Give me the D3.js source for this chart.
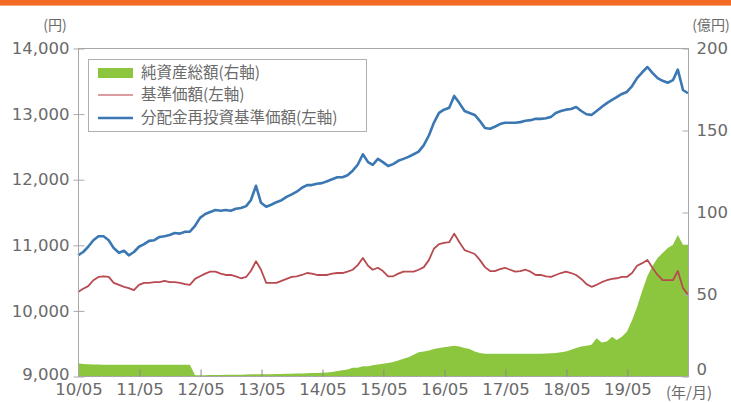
<!DOCTYPE html>
<html>
<head>
<meta charset="utf-8">
<script src="https://cdn.jsdelivr.net/npm/d3@7"></script>
<style>
  html, body { margin: 0; padding: 0; background: #fff; }
  svg { display: block; }
</style>
</head>
<body>
<div id="chart"></div>
<script>
// monthly values, 2010/05 .. 2020/05
const reinvestNav = [
  10840, 10890, 10970, 11070, 11130, 11130, 11070, 10950, 10880, 10910, 10840, 10890,
  10970, 11010, 11060, 11070, 11120, 11130, 11150, 11180, 11170, 11200, 11200, 11290,
  11410, 11470, 11500, 11530, 11520, 11530, 11520, 11550, 11560, 11590, 11680, 11900,
  11640, 11580, 11610, 11650, 11680, 11730, 11770, 11810, 11870, 11910, 11910, 11930,
  11940, 11970, 12000, 12030, 12030, 12060, 12130, 12220, 12380, 12260, 12220, 12310,
  12260, 12200, 12230, 12280, 12310, 12340, 12380, 12420, 12520, 12670, 12860, 13010,
  13060, 13090, 13270, 13160, 13040, 13010, 12980, 12890, 12780, 12770, 12800, 12840,
  12860, 12860, 12860, 12870, 12890, 12900, 12920, 12920, 12930, 12950, 13010, 13040,
  13060, 13070, 13100, 13040, 12990, 12980, 13040, 13100, 13160, 13210, 13250, 13300,
  13330, 13420, 13540, 13630, 13710, 13620, 13540, 13500, 13470, 13510, 13670, 13360,
  13310
];
const baseNav = [
  10280, 10330, 10370, 10460, 10510, 10520, 10510, 10420, 10390, 10360, 10340, 10310,
  10390, 10420, 10420, 10430, 10430, 10450, 10430, 10430, 10420, 10400, 10390, 10480,
  10520, 10560, 10590, 10590, 10560, 10540, 10540, 10520, 10490, 10510, 10600, 10750,
  10620, 10420, 10420, 10420, 10450, 10480, 10510, 10520, 10540, 10570, 10560, 10540,
  10540, 10540, 10560, 10570, 10570, 10590, 10620, 10690, 10800, 10680, 10620, 10650,
  10600, 10520, 10520, 10560, 10590, 10590, 10590, 10620, 10660, 10770, 10940, 11010,
  11030, 11040, 11170, 11040, 10920, 10890, 10860, 10770, 10660, 10600, 10600, 10630,
  10650, 10620, 10590, 10600, 10620, 10590, 10540, 10540, 10520, 10510, 10540, 10570,
  10590, 10570, 10540, 10480, 10400, 10360, 10390, 10430, 10460, 10480, 10490, 10510,
  10510, 10570, 10680, 10720, 10770, 10650, 10540, 10460, 10460, 10460, 10600, 10340,
  10240
];
const netAssets = [
  7.8, 7.3, 7.1, 7.0, 7.0, 6.9, 6.9, 6.9, 6.8, 6.8, 6.8, 6.8,
  6.8, 6.8, 6.8, 6.8, 6.8, 6.8, 6.8, 6.8, 6.8, 6.8, 6.8, 0.5,
  0.5, 0.5, 0.6, 0.6, 0.6, 0.7, 0.7, 0.8, 0.8, 0.9, 1.0, 1.0,
  1.0, 1.1, 1.1, 1.2, 1.2, 1.3, 1.4, 1.5, 1.6, 1.7, 1.8, 1.9,
  2.0, 2.2, 2.5, 3.0, 3.5, 4.0, 5.0, 5.0, 6.0, 6.0, 6.5, 7.0,
  7.5, 8.0, 8.5, 9.5, 10.5, 11.5, 13.0, 14.5, 15.0, 15.5, 16.5, 17.0,
  17.5, 18.0, 18.5, 18.0, 17.0, 16.5, 15.0, 14.0, 13.5, 13.5, 13.5, 13.5,
  13.5, 13.5, 13.5, 13.5, 13.5, 13.5, 13.6, 13.6, 13.7, 13.8, 14.0, 14.5,
  15.0, 16.0, 17.0, 18.0, 18.5, 19.0, 23.0, 20.5, 21.0, 24.0, 22.0, 24.0,
  27.0, 34.0, 42.0, 52.0, 61.0, 67.0, 72.0, 75.0, 78.0, 80.0, 86.0, 80.0,
  80.0
];
const leftTicks = [9000, 10000, 11000, 12000, 13000, 14000];
const rightTicks = [0, 50, 100, 150, 200];
const xTickLabels = ["10/05", "11/05", "12/05", "13/05", "14/05", "15/05",
  "16/05", "17/05", "18/05", "19/05", "(年/月)"];
const seriesNames = ["純資産総額(右軸)", "基準価額(左軸)", "分配金再投資基準価額(左軸)"];

const W = 731, H = 403;
const PLOT = {left: 78, right: 688, top: 48, bottom: 376};
const COLORS = {green: "#8cc63f", red: "#b84a50", blue: "#3b78b3", axis: "#a8a8a8", text: "#6a6a6a"};

const start = new Date(2010, 4, 1);
const months = netAssets.map((d, i) => d3.timeMonth.offset(start, i));

const svg = d3.select("#chart").append("svg")
  .attr("width", W)
  .attr("height", H);

// orange strip at the top
svg.append("rect").attr("x", 0).attr("y", 0).attr("width", W).attr("height", 5).attr("fill", "#f26a24");
svg.append("rect").attr("x", 0).attr("y", 5).attr("width", W).attr("height", 1).attr("fill", "#f7a67c");

const x = d3.scaleTime()
  .domain([start, d3.timeMonth.offset(start, 120)])
  .range([PLOT.left, PLOT.right]);
const yL = d3.scaleLinear().domain([9000, 14000]).range([PLOT.bottom, PLOT.top]);
const yR = d3.scaleLinear().domain([0, 200]).range([PLOT.bottom, PLOT.top]);

// net assets area
const area = d3.area()
  .x((d, i) => x(months[i]))
  .y0(yR(0))
  .y1(d => yR(d));
svg.append("path")
  .datum(netAssets)
  .attr("fill", COLORS.green)
  .attr("d", area);

const lineL = d3.line()
  .x((d, i) => x(months[i]))
  .y(d => yL(d));

svg.append("path")
  .datum(baseNav)
  .attr("fill", "none")
  .attr("stroke", COLORS.red)
  .attr("stroke-width", 1.8)
  .attr("stroke-linejoin", "round")
  .attr("d", lineL);

svg.append("path")
  .datum(reinvestNav)
  .attr("fill", "none")
  .attr("stroke", COLORS.blue)
  .attr("stroke-width", 2.6)
  .attr("stroke-linejoin", "round")
  .attr("d", lineL);

// frame
svg.append("rect")
  .attr("x", PLOT.left + 0.5).attr("y", PLOT.top + 0.5)
  .attr("width", PLOT.right - PLOT.left).attr("height", PLOT.bottom - PLOT.top)
  .attr("fill", "none")
  .attr("stroke", COLORS.axis);

// left axis (ticks cross the frame)
const left = svg.append("g").attr("transform", `translate(${PLOT.left + 0.5},0.5)`)
  .call(d3.axisLeft(yL).tickValues(leftTicks).tickSize(5).tickPadding(4)
    .tickFormat(d3.format(",")));
left.select(".domain").remove();
left.selectAll(".tick line").attr("x1", 6).attr("stroke", COLORS.axis);
left.selectAll(".tick text").filter(d => d === 9000).attr("dy", "0.2em");

// right axis (ticks inward)
const right = svg.append("g").attr("transform", `translate(${PLOT.right + 0.5},0.5)`)
  .call(d3.axisRight(yR).tickValues(rightTicks).tickSize(0).tickPadding(8));
right.select(".domain").remove();
right.selectAll(".tick line").attr("x2", -6).attr("stroke", COLORS.axis);
right.selectAll(".tick text").filter(d => d === 0).attr("dy", "-0.1em");

// bottom axis (ticks inward)
const xTicks = xTickLabels.map((d, i) => d3.timeYear.offset(start, i));
const bottom = svg.append("g").attr("transform", `translate(0.5,${PLOT.bottom + 0.5})`)
  .call(d3.axisBottom(x).tickValues(xTicks).tickSize(0).tickPadding(7)
    .tickFormat((d, i) => xTickLabels[i]));
bottom.select(".domain").remove();
bottom.selectAll(".tick line").attr("y2", (d, i) => (i === 0 || i === xTicks.length - 1) ? 0 : -7)
  .attr("stroke", "#8a8a8a");

svg.selectAll(".tick text")
  .attr("fill", COLORS.text)
  .style("font-family", "'DejaVu Sans', sans-serif")
  .style("font-size", "16.5px");
bottom.selectAll(".tick text").filter((d, i) => i === xTicks.length - 1)
  .attr("dy", "0.95em")
  .style("font-family", "'Noto Sans CJK JP', sans-serif")
  .style("font-size", "15px");

// unit labels
const unit = svg.append("g")
  .attr("fill", COLORS.text)
  .style("font-family", "'Noto Sans CJK JP', sans-serif")
  .style("font-size", "14px");
unit.append("text").attr("x", 55).attr("y", 30).attr("text-anchor", "middle").text("(円)");
unit.append("text").attr("x", 711).attr("y", 30).attr("text-anchor", "middle").text("(億円)");

// legend
const legend = svg.append("g");
legend.append("rect")
  .attr("x", 88.5).attr("y", 59.5).attr("width", 278).attr("height", 72)
  .attr("fill", "#fff").attr("stroke", "#b0b0b0");
const rowY = [73, 95, 118];
legend.append("rect").attr("x", 98).attr("y", rowY[0] - 5).attr("width", 35).attr("height", 10)
  .attr("fill", COLORS.green);
legend.append("line").attr("x1", 98).attr("x2", 133).attr("y1", rowY[1]).attr("y2", rowY[1])
  .attr("stroke", "#cf7c80").attr("stroke-width", 1.6);
legend.append("line").attr("x1", 98).attr("x2", 133).attr("y1", rowY[2]).attr("y2", rowY[2])
  .attr("stroke", COLORS.blue).attr("stroke-width", 2.6);
legend.selectAll("text.lg")
  .data(seriesNames)
  .enter().append("text")
  .attr("class", "lg")
  .attr("x", 141)
  .attr("y", (d, i) => rowY[i])
  .attr("dy", "0.35em")
  .attr("fill", COLORS.text)
  .style("font-family", "'Noto Sans CJK JP', sans-serif")
  .style("font-size", "15.5px")
  .text(d => d);
</script>
</body>
</html>
